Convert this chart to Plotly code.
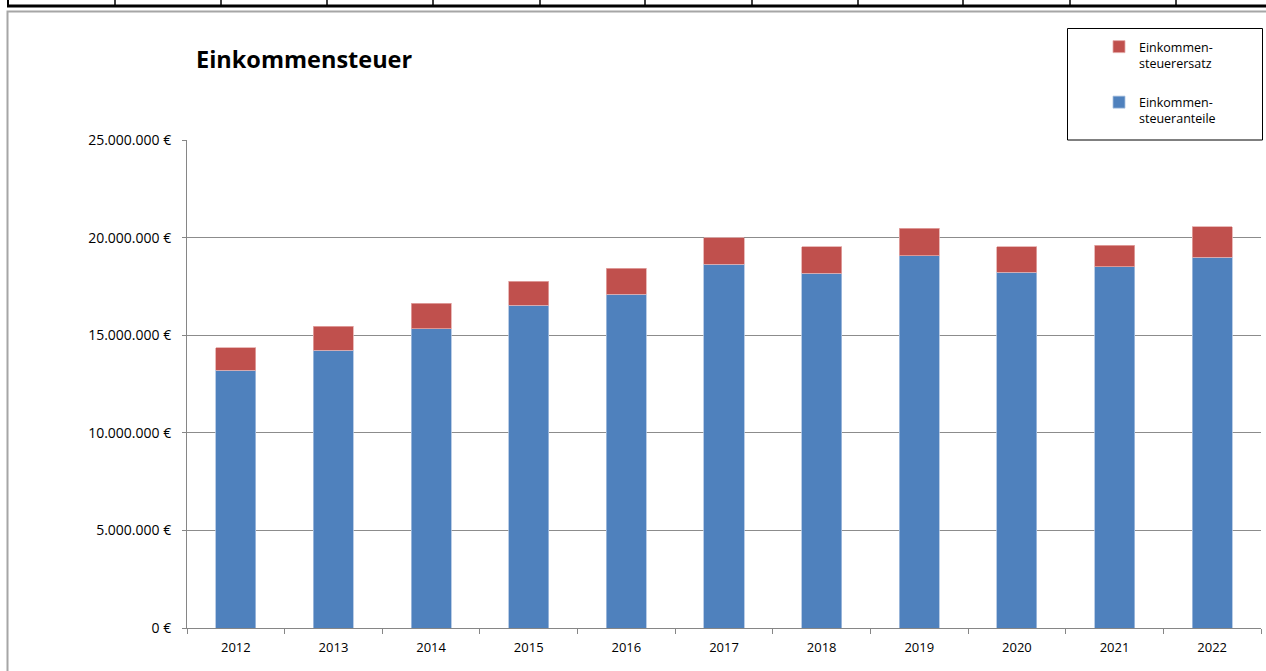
import plotly.graph_objects as go

years = ["2012", "2013", "2014", "2015", "2016", "2017", "2018", "2019", "2020", "2021", "2022"]
anteile = [13.21e6, 14.22e6, 15.33e6, 16.54e6, 17.09e6, 18.64e6, 18.17e6, 19.07e6, 18.23e6, 18.50e6, 18.99e6]
ersatz = [1.16e6, 1.24e6, 1.30e6, 1.23e6, 1.35e6, 1.35e6, 1.36e6, 1.40e6, 1.30e6, 1.10e6, 1.56e6]
y_ticks = [0, 5e6, 10e6, 15e6, 20e6, 25e6]
y_tick_labels = ["0 €", "5.000.000 €", "10.000.000 €", "15.000.000 €", "20.000.000 €", "25.000.000 €"]

W, H = 1266, 671
L, R, T, B = 187, 5, 140, 43
PW = W - L - R
PH = H - T - B

def px(x):
    return (x - L) / PW

def py(y):
    return (H - B - y) / PH

FONT = "Open Sans"
BLUE = "#4F81BD"
RED = "#C0504D"

fig = go.Figure()
fig.add_trace(go.Bar(x=years, y=anteile, name="Einkommen-<br>steueranteile",
                     marker=dict(color=BLUE, line=dict(color="#A9C1E0", width=0.8)),
                     legendgroup="a", legendrank=2))
fig.add_trace(go.Bar(x=years, y=ersatz, name="Einkommen-<br>steuerersatz",
                     marker=dict(color=RED, line=dict(color="#E3A9A8", width=0.8)),
                     legendgroup="b", legendrank=1))

shapes = []
# outer chart border
shapes.append(dict(type="rect", xref="paper", yref="paper", x0=px(7.5), x1=px(1275), y0=py(690), y1=py(11.5),
                   line=dict(color="#A6A6A6", width=2), fillcolor="rgba(0,0,0,0)", layer="below"))
# cut-off table row above the chart
shapes.append(dict(type="line", xref="paper", yref="paper", x0=px(7), x1=px(1266), y0=py(6), y1=py(6),
                   line=dict(color="black", width=3)))
for sx in [8, 115, 221, 327, 433, 540, 645, 752, 858, 963, 1070, 1176]:
    shapes.append(dict(type="line", xref="paper", yref="paper", x0=px(sx), x1=px(sx), y0=py(0), y1=py(6),
                       line=dict(color="black", width=2 if sx == 8 else 1.5)))
# legend box
shapes.append(dict(type="rect", xref="paper", yref="paper", x0=px(1067.5), x1=px(1262.5), y0=py(140), y1=py(28.5),
                   line=dict(color="black", width=1), fillcolor="white", layer="above"))

fig.update_layout(
    width=W, height=H,
    margin=dict(l=L, r=R, t=T, b=B, pad=0),
    paper_bgcolor="white", plot_bgcolor="white",
    barmode="stack", bargap=0.59,
    font=dict(family=FONT, size=12, color="#000000"),
    title=dict(text="<b>Einkommensteuer</b>", x=196 / W, y=1 - 60 / H, xref="container", yref="container",
               xanchor="left", yanchor="middle", font=dict(family=FONT, size=23.5, color="black")),
    legend=dict(x=px(1099), y=py(32), xanchor="left", yanchor="top", traceorder="grouped",
                bgcolor="rgba(0,0,0,0)", borderwidth=0, valign="top", tracegroupgap=20,
                itemwidth=30, font=dict(family=FONT, size=12.5, color="black")),
    xaxis=dict(type="category", showline=True, linecolor="#868686", linewidth=1,
               ticks="outside", tickson="boundaries", ticklen=5, tickcolor="#868686",
               ticklabelstandoff=7,
               showgrid=False, tickfont=dict(family=FONT, size=13, color="black")),
    yaxis=dict(range=[0, 25e6], tickvals=y_ticks, ticktext=y_tick_labels,
               showline=True, linecolor="#868686", linewidth=1,
               ticks="outside", ticklen=4, tickcolor="#868686", ticklabelstandoff=8,
               showgrid=True, gridcolor="#8C8C8C", gridwidth=1, zeroline=False,
               tickfont=dict(family=FONT, size=14, color="black")),
    shapes=shapes,
)

fig.write_html("out.html", config={"displayModeBar": False},
               post_script="document.body.style.margin='0';document.body.style.overflow='hidden';")
